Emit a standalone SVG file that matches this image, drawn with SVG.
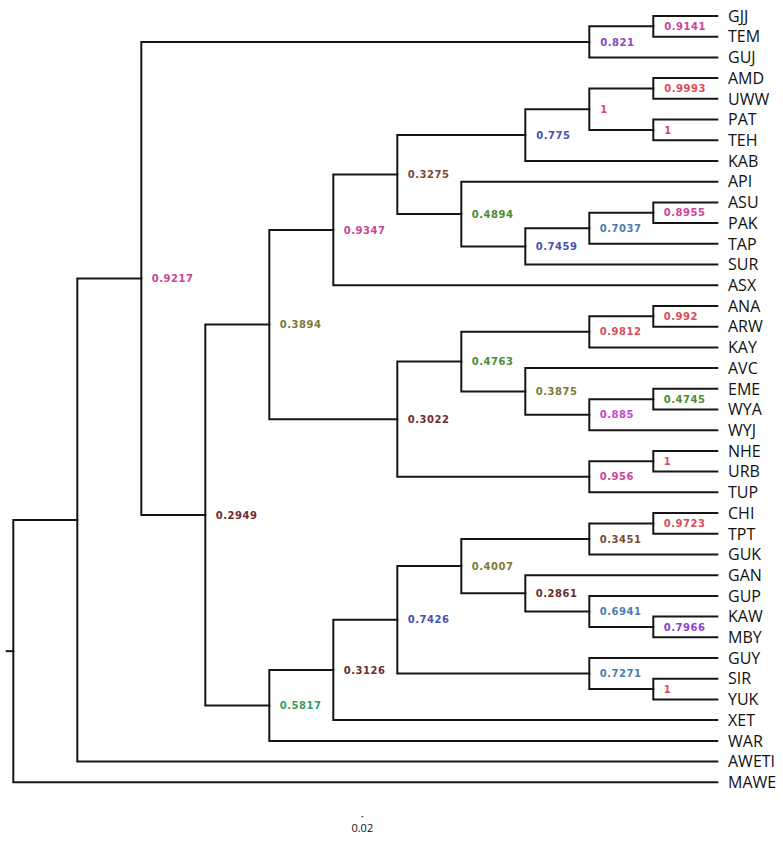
<svg xmlns="http://www.w3.org/2000/svg" width="783" height="841" viewBox="0 0 783 841">
<style>
.e{fill:none;stroke:#161616;stroke-width:2;stroke-linecap:square}
.lf{font-family:"Open Sans","Noto Sans","DejaVu Sans",sans-serif;font-size:16px;fill:#111}
.s{font-family:"DejaVu Sans","Liberation Sans",sans-serif;font-size:10px;font-weight:bold;letter-spacing:0.5px}
.pk{fill:#cc4499}.pu{fill:#8a45c8}.rd{fill:#dc4a58}.bl{fill:#4a4fb4}.sb{fill:#4a7cb0}
.br{fill:#7a4a32}.gr{fill:#4f8a33}.ol{fill:#7d7a34}.dr{fill:#6e2c2c}.tg{fill:#3a9a60}.mg{fill:#c846c8}
</style>
<rect width="783" height="841" fill="#fff"/>
<g id="connectors">
<path class="e" d="M6.7 651.15 H13.3"/>
<path class="e" d="M77.3 520 H13.3 V782.3 H717.3"/>
<path class="e" d="M141.3 278.4 H77.3 V761.6 H717.3"/>
<path class="e" d="M589.3 41.9 H141.3 V515 H205.3"/>
<path class="e" d="M653.3 26.35 H589.3 V57.4 H717.3"/>
<path class="e" d="M717.3 16 H653.3 V36.7 H717.3"/>
<path class="e" d="M269.3 324.55 H205.3 V705.4 H269.3"/>
<path class="e" d="M333.3 229.9 H269.3 V419.2 H397.3"/>
<path class="e" d="M397.3 174.6 H333.3 V285.2 H717.3"/>
<path class="e" d="M525.3 135.1 H397.3 V214.05 H461.3"/>
<path class="e" d="M589.3 109.2 H525.3 V161 H717.3"/>
<path class="e" d="M653.3 88.45 H589.3 V129.95 H653.3"/>
<path class="e" d="M717.3 78.1 H653.3 V98.8 H717.3"/>
<path class="e" d="M717.3 119.6 H653.3 V140.3 H717.3"/>
<path class="e" d="M717.3 181.7 H461.3 V246.4 H525.3"/>
<path class="e" d="M589.3 228.3 H525.3 V264.5 H717.3"/>
<path class="e" d="M653.3 212.75 H589.3 V243.8 H717.3"/>
<path class="e" d="M717.3 202.4 H653.3 V223.1 H717.3"/>
<path class="e" d="M461.3 361.6 H397.3 V476.8 H589.3"/>
<path class="e" d="M589.3 331.85 H461.3 V391.4 H525.3"/>
<path class="e" d="M653.3 316.3 H589.3 V347.4 H717.3"/>
<path class="e" d="M717.3 305.9 H653.3 V326.7 H717.3"/>
<path class="e" d="M717.3 368.1 H525.3 V414.7 H589.3"/>
<path class="e" d="M653.3 399.15 H589.3 V430.2 H717.3"/>
<path class="e" d="M717.3 388.8 H653.3 V409.5 H717.3"/>
<path class="e" d="M653.3 461.25 H589.3 V492.3 H717.3"/>
<path class="e" d="M717.3 450.9 H653.3 V471.6 H717.3"/>
<path class="e" d="M333.3 670 H269.3 V740.9 H717.3"/>
<path class="e" d="M397.3 619.8 H333.3 V720.1 H717.3"/>
<path class="e" d="M461.3 566.1 H397.3 V673.5 H589.3"/>
<path class="e" d="M589.3 538.95 H461.3 V593.3 H525.3"/>
<path class="e" d="M653.3 523.4 H589.3 V554.5 H717.3"/>
<path class="e" d="M717.3 513 H653.3 V533.8 H717.3"/>
<path class="e" d="M717.3 575.2 H525.3 V611.4 H589.3"/>
<path class="e" d="M717.3 595.9 H589.3 V626.95 H653.3"/>
<path class="e" d="M717.3 616.6 H653.3 V637.3 H717.3"/>
<path class="e" d="M717.3 658 H589.3 V689.05 H653.3"/>
<path class="e" d="M717.3 678.7 H653.3 V699.4 H717.3"/>
</g>
<g id="support">
<g id="n-B"><text class="s pk" x="151.8" y="282">0.9217</text></g>
<g id="n-GG"><text class="s pu" x="600.3" y="45.5">0.821</text></g>
<g id="n-9141"><text class="s pk" x="664.3" y="29.9">0.9141</text></g>
<g id="n-C"><text class="s dr" x="215.8" y="518.6">0.2949</text></g>
<g id="n-D"><text class="s ol" x="279.8" y="328.1">0.3894</text></g>
<g id="n-F"><text class="s pk" x="343.8" y="233.5">0.9347</text></g>
<g id="n-H"><text class="s br" x="407.8" y="178.2">0.3275</text></g>
<g id="n-I"><text class="s bl" x="536.3" y="138.7">0.775</text></g>
<g id="n-K"><text class="s rd" x="600.3" y="112.8">1</text></g>
<g id="n-L"><text class="s rd" x="664.3" y="92">0.9993</text></g>
<g id="n-M"><text class="s rd" x="664.3" y="133.5">1</text></g>
<g id="n-J"><text class="s gr" x="471.8" y="217.6">0.4894</text></g>
<g id="n-N"><text class="s bl" x="535.8" y="250">0.7459</text></g>
<g id="n-O"><text class="s sb" x="599.8" y="231.9">0.7037</text></g>
<g id="n-P"><text class="s pk" x="663.8" y="216.3">0.8955</text></g>
<g id="n-G"><text class="s dr" x="407.8" y="422.8">0.3022</text></g>
<g id="n-Q"><text class="s gr" x="471.8" y="365.2">0.4763</text></g>
<g id="n-T"><text class="s rd" x="599.8" y="335.4">0.9812</text></g>
<g id="n-V"><text class="s rd" x="663.8" y="319.9">0.992</text></g>
<g id="n-U"><text class="s ol" x="535.8" y="395">0.3875</text></g>
<g id="n-W"><text class="s mg" x="599.8" y="418.3">0.885</text></g>
<g id="n-X"><text class="s gr" x="663.8" y="402.7">0.4745</text></g>
<g id="n-R"><text class="s pk" x="599.8" y="480.4">0.956</text></g>
<g id="n-S"><text class="s rd" x="663.8" y="464.8">1</text></g>
<g id="n-E"><text class="s tg" x="279.8" y="709">0.5817</text></g>
<g id="n-Y"><text class="s dr" x="343.8" y="673.6">0.3126</text></g>
<g id="n-Z"><text class="s bl" x="407.8" y="623.4">0.7426</text></g>
<g id="n-AA"><text class="s ol" x="471.8" y="569.7">0.4007</text></g>
<g id="n-AD"><text class="s br" x="599.8" y="542.5">0.3451</text></g>
<g id="n-AF"><text class="s rd" x="663.8" y="527">0.9723</text></g>
<g id="n-AE"><text class="s dr" x="535.8" y="596.9">0.2861</text></g>
<g id="n-AG"><text class="s sb" x="599.8" y="615">0.6941</text></g>
<g id="n-AH"><text class="s pu" x="663.8" y="630.5">0.7966</text></g>
<g id="n-AB"><text class="s sb" x="599.8" y="677.1">0.7271</text></g>
<g id="n-AC"><text class="s rd" x="663.8" y="692.6">1</text></g>
</g>
<g id="leaves">
<g id="GJJ"><text class="lf" x="728" y="21.7">GJJ</text></g>
<g id="TEM"><text class="lf" x="728" y="42.4">TEM</text></g>
<g id="GUJ"><text class="lf" x="728" y="63.1">GUJ</text></g>
<g id="AMD"><text class="lf" x="728" y="83.8">AMD</text></g>
<g id="UWW"><text class="lf" x="728" y="104.5">UWW</text></g>
<g id="PAT"><text class="lf" x="728" y="125.3">PAT</text></g>
<g id="TEH"><text class="lf" x="728" y="146">TEH</text></g>
<g id="KAB"><text class="lf" x="728" y="166.7">KAB</text></g>
<g id="API"><text class="lf" x="728" y="187.4">API</text></g>
<g id="ASU"><text class="lf" x="728" y="208.1">ASU</text></g>
<g id="PAK"><text class="lf" x="728" y="228.8">PAK</text></g>
<g id="TAP"><text class="lf" x="728" y="249.5">TAP</text></g>
<g id="SUR"><text class="lf" x="728" y="270.2">SUR</text></g>
<g id="ASX"><text class="lf" x="728" y="290.9">ASX</text></g>
<g id="ANA"><text class="lf" x="728" y="311.6">ANA</text></g>
<g id="ARW"><text class="lf" x="728" y="332.4">ARW</text></g>
<g id="KAY"><text class="lf" x="728" y="353.1">KAY</text></g>
<g id="AVC"><text class="lf" x="728" y="373.8">AVC</text></g>
<g id="EME"><text class="lf" x="728" y="394.5">EME</text></g>
<g id="WYA"><text class="lf" x="728" y="415.2">WYA</text></g>
<g id="WYJ"><text class="lf" x="728" y="435.9">WYJ</text></g>
<g id="NHE"><text class="lf" x="728" y="456.6">NHE</text></g>
<g id="URB"><text class="lf" x="728" y="477.3">URB</text></g>
<g id="TUP"><text class="lf" x="728" y="498">TUP</text></g>
<g id="CHI"><text class="lf" x="728" y="518.7">CHI</text></g>
<g id="TPT"><text class="lf" x="728" y="539.5">TPT</text></g>
<g id="GUK"><text class="lf" x="728" y="560.2">GUK</text></g>
<g id="GAN"><text class="lf" x="728" y="580.9">GAN</text></g>
<g id="GUP"><text class="lf" x="728" y="601.6">GUP</text></g>
<g id="KAW"><text class="lf" x="728" y="622.3">KAW</text></g>
<g id="MBY"><text class="lf" x="728" y="643">MBY</text></g>
<g id="GUY"><text class="lf" x="728" y="663.7">GUY</text></g>
<g id="SIR"><text class="lf" x="728" y="684.4">SIR</text></g>
<g id="YUK"><text class="lf" x="728" y="705.1">YUK</text></g>
<g id="XET"><text class="lf" x="728" y="725.8">XET</text></g>
<g id="WAR"><text class="lf" x="728" y="746.6">WAR</text></g>
<g id="AWETI"><text class="lf" x="728" y="767.3">AWETI</text></g>
<g id="MAWE"><text class="lf" x="728" y="788">MAWE</text></g>
</g>
<g id="scale">
<path d="M361.4 816.7 H363.2" stroke="#222" stroke-width="1"/>
<text x="362.3" y="832" text-anchor="middle" font-family="'Open Sans','Noto Sans',sans-serif" font-size="11px" fill="#111">0.02</text>
</g>
</svg>
